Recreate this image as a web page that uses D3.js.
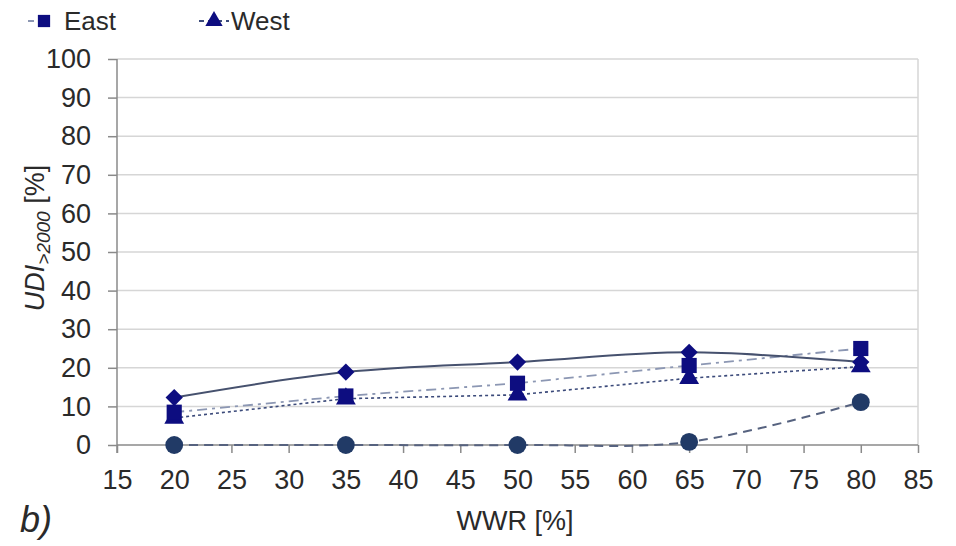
<!DOCTYPE html>
<html><head><meta charset="utf-8">
<script src="https://cdn.jsdelivr.net/npm/d3@7"></script>
<style>body{margin:0;background:#fff}svg{display:block}text{font-family:"Liberation Sans",Arial,sans-serif;fill:#2a2a2a}</style>
</head><body><svg id="c" width="956" height="546"></svg>
<script>
const wwr = [20, 35, 50, 65, 80];
const north = [12.3, 18.9, 21.5, 24.0, 21.5];
const east = [8.5, 12.7, 16.0, 20.6, 25.0];
const west = [7.0, 12.0, 13.0, 17.3, 20.3];
const south = [0, 0, 0, 0.8, 11.1];
const xTicks = [15, 20, 25, 30, 35, 40, 45, 50, 55, 60, 65, 70, 75, 80, 85];
const yTicks = [0, 10, 20, 30, 40, 50, 60, 70, 80, 90, 100];
const legendItems = ["East", "West"];

const svg = d3.select("#c");
const x = d3.scaleLinear().domain([15, 85]).range([117, 918]);
const y = d3.scaleLinear().domain([0, 100]).range([445, 59]);

// gridlines
svg.append("g").selectAll("line").data(yTicks.filter(d => d > 0)).join("line")
  .attr("x1", x(15)).attr("x2", x(85)).attr("y1", d => y(d)).attr("y2", d => y(d))
  .attr("stroke", "#d6d6d6").attr("stroke-width", 1.5);
svg.append("line").attr("x1", x(85)).attr("x2", x(85)).attr("y1", y(100)).attr("y2", y(0))
  .attr("stroke", "#d6d6d6").attr("stroke-width", 1.5);

// axes
const yAxis = svg.append("g").attr("transform", `translate(${x(15)},0)`)
  .call(d3.axisLeft(y).tickValues(yTicks).tickSize(9).tickPadding(17));
const xAxis = svg.append("g").attr("transform", `translate(0,${y(0)})`)
  .call(d3.axisBottom(x).tickValues(xTicks).tickSize(8).tickPadding(17));
[yAxis, xAxis].forEach(a => {
  a.selectAll("path,line").attr("stroke", "#8a8a8a").attr("stroke-width", 1.5);
  a.selectAll("text").style("font-size", "27px").attr("fill", "#262626");
});
yAxis.select(".domain").attr("d", `M0,${y(100)}V${y(0) + 8}`);
xAxis.select(".domain").attr("d", `M${x(15)},0H${x(85)}`);

const pts = arr => wwr.map((w, i) => [x(w), y(arr[i])]);
const smooth = d3.line().curve(d3.curveCatmullRom.alpha(0));
const straight = d3.line();

// lines
svg.append("path").attr("d", smooth(pts(south))).attr("fill", "none")
  .attr("stroke", "#56627f").attr("stroke-width", 2).attr("stroke-dasharray", "9,6");
svg.append("path").attr("d", straight(pts(west))).attr("fill", "none")
  .attr("stroke", "#3b4a7a").attr("stroke-width", 1.6).attr("stroke-dasharray", "3,3");
svg.append("path").attr("d", straight(pts(east))).attr("fill", "none")
  .attr("stroke", "#8c97b3").attr("stroke-width", 1.8).attr("stroke-dasharray", "10,5,3,5");
svg.append("path").attr("d", smooth(pts(north))).attr("fill", "none")
  .attr("stroke", "#46516e").attr("stroke-width", 2);

// markers
const navy = "#0d0d80";
svg.append("g").selectAll("path").data(pts(south)).join("path")
  .attr("d", d3.symbol(d3.symbolCircle, 250)()).attr("transform", d => `translate(${d})`)
  .attr("fill", "#213a66");
svg.append("g").selectAll("path").data(pts(north)).join("path")
  .attr("d", d3.symbol(d3.symbolDiamond2, 190)()).attr("transform", d => `translate(${d})`)
  .attr("fill", navy);
svg.append("g").selectAll("path").data(pts(west)).join("path")
  .attr("d", d3.symbol(d3.symbolTriangle, 170)()).attr("transform", d => `translate(${d})`)
  .attr("fill", navy);
svg.append("g").selectAll("path").data(pts(east)).join("path")
  .attr("d", d3.symbol(d3.symbolSquare, 230)()).attr("transform", d => `translate(${d})`)
  .attr("fill", navy);

// legend
const lg = svg.append("g");
lg.append("line").attr("x1", 28).attr("x2", 50).attr("y1", 21).attr("y2", 21).attr("stroke", "#8c97b3").attr("stroke-width", 2).attr("stroke-dasharray", "6,4");
lg.append("path").attr("d", d3.symbol(d3.symbolSquare, 150)()).attr("transform", "translate(44,21)").attr("fill", navy);
lg.append("text").attr("x", 64).attr("y", 30).style("font-size", "26px").text(legendItems[0]);
lg.append("line").attr("x1", 199).attr("x2", 229).attr("y1", 21).attr("y2", 21).attr("stroke", "#3b4a7a").attr("stroke-width", 2).attr("stroke-dasharray", "5,4");
lg.append("path").attr("d", d3.symbol(d3.symbolTriangle, 130)()).attr("transform", "translate(214,21)").attr("fill", navy);
lg.append("text").attr("x", 231).attr("y", 30).style("font-size", "26px").text(legendItems[1]);

// axis titles
const yl = svg.append("text").attr("transform", "translate(44,238) rotate(-90)").attr("text-anchor", "middle").style("font-size", "27px");
yl.append("tspan").style("font-style", "italic").text("UDI");
yl.append("tspan").style("font-style", "italic").style("font-size", "19px").attr("dy", 6).text(">2000");
yl.append("tspan").attr("dy", -6).text(" [%]");
svg.append("text").attr("x", 515).attr("y", 530).attr("text-anchor", "middle").style("font-size", "27px").text("WWR [%]");
svg.append("text").attr("x", 20).attr("y", 532).style("font-size", "36px").style("font-style", "italic").text("b)");
</script></body></html>
